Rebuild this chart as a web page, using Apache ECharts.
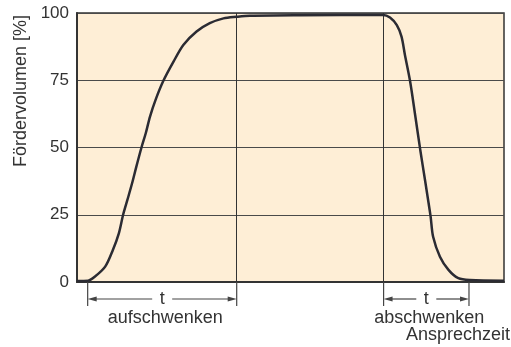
<!DOCTYPE html>
<html>
<head>
<meta charset="utf-8">
<script src="https://cdn.jsdelivr.net/npm/echarts@6/dist/echarts.min.js"></script>
<style>
  html, body { margin: 0; padding: 0; background: #fff; }
  #chart { width: 511px; height: 347px; }
</style>
</head>
<body>
<div id="chart"></div>
<script>
// time axis in arbitrary units (0..100), volume in %
const timeX = [0, 2.6, 4.2, 6.6, 8.4, 9.8, 10.8, 11.8, 12.9, 13.9, 15.1, 16.1, 17.1, 18.4, 20.2, 22.6, 24.9, 28.0, 31.1, 34.3, 37.4, 40.5, 52.2, 71.7, 73.3, 74.9, 76.0, 76.8, 78.0, 79.2, 80.4, 81.5, 82.8, 83.4, 85.0, 87.0, 89.3, 92.0, 100];
const volume = [0.4, 0.5, 2.0, 5.7, 11.9, 18.1, 25.0, 30.5, 36.7, 42.9, 50.0, 55.3, 61.5, 67.7, 74.7, 81.9, 88.1, 93.1, 96.2, 98.0, 98.6, 99.0, 99.2, 99.3, 98.3, 95.5, 91.2, 84.4, 74.7, 62.0, 49.0, 37.9, 24.5, 16.8, 9.4, 4.5, 1.4, 0.7, 0.5];
const yTicks = [0, 25, 50, 75, 100];
const phaseStart = [2.5, 71.8];
const phaseEnd = [37.4, 91.8];
const phaseNames = ['aufschwenken', 'abschwenken'];

const ink = '#2b2b33';
const txt = '#333333';
const font = '"Liberation Sans", Arial, sans-serif';

const chart = echarts.init(document.getElementById('chart'));

const option = {
  animation: false,
  grid: {
    left: 77, right: 7, top: 13, bottom: 65,
    show: true,
    backgroundColor: '#feeed6',
    borderColor: '#333',
    borderWidth: 1.5
  },
  xAxis: {
    type: 'value', min: 0, max: 100,
    axisLine: { show: true, onZero: false, lineStyle: { color: '#333', width: 2 } },
    axisTick: { show: false },
    axisLabel: { show: false },
    splitLine: { show: false }
  },
  yAxis: {
    type: 'value', min: yTicks[0], max: yTicks[yTicks.length - 1], interval: 25,
    axisLine: { show: true, lineStyle: { color: '#333', width: 2 } },
    axisTick: { show: false },
    axisLabel: { color: txt, fontSize: 17, fontFamily: font, margin: 8 },
    splitLine: { show: true, lineStyle: { color: '#4a4a4a', width: 1 } }
  },
  graphic: [
    {
      type: 'text', x: 21, y: 91, rotation: Math.PI / 2,
      style: { text: 'Fördervolumen [%]', fill: txt, font: '18px ' + font, align: 'center', verticalAlign: 'middle' }
    },
    {
      type: 'text', right: 1, top: 326,
      style: { text: 'Ansprechzeit', fill: txt, font: '18px ' + font }
    }
  ],
  series: [
    {
      type: 'line',
      data: timeX.map((x, i) => [x, volume[i]]),
      symbol: 'none',
      smooth: 0.3,
      lineStyle: { color: ink, width: 2.5 },
      z: 5,
      markLine: {
        silent: true,
        symbol: 'none',
        label: { show: false },
        lineStyle: { color: '#333', width: 1, type: 'solid' },
        data: [{ xAxis: phaseEnd[0] }, { xAxis: phaseStart[1] }]
      }
    },
    {
      type: 'custom',
      clip: false,
      silent: true,
      data: phaseStart.map((s, i) => [s, phaseEnd[i]]),
      renderItem: function (params, api) {
        const a = api.coord([api.value(0), 0]);
        const b = api.coord([api.value(1), 0]);
        const y0 = a[1];
        const ya = y0 + 17;
        const mid = (a[0] + b[0]) / 2;
        const st = { stroke: '#444', lineWidth: 1.2 };
        return {
          type: 'group',
          children: [
            { type: 'line', shape: { x1: a[0], y1: y0, x2: a[0], y2: y0 + 24 }, style: st },
            { type: 'line', shape: { x1: b[0], y1: y0, x2: b[0], y2: y0 + 24 }, style: st },
            { type: 'line', shape: { x1: a[0] + 4, y1: ya, x2: mid - 10, y2: ya }, style: st },
            { type: 'line', shape: { x1: mid + 10, y1: ya, x2: b[0] - 4, y2: ya }, style: st },
            { type: 'polygon', shape: { points: [[a[0], ya], [a[0] + 9, ya - 2.5], [a[0] + 9, ya + 2.5]] }, style: { fill: '#444' } },
            { type: 'polygon', shape: { points: [[b[0], ya], [b[0] - 9, ya - 2.5], [b[0] - 9, ya + 2.5]] }, style: { fill: '#444' } },
            { type: 'text', style: { x: mid, y: ya, text: 't', fill: txt, font: '18px ' + font, align: 'center', verticalAlign: 'middle' } },
            { type: 'text', style: { x: mid + 3, y: y0 + 36, text: phaseNames[params.dataIndex], fill: txt, font: '18px ' + font, align: 'center', verticalAlign: 'middle' } }
          ]
        };
      }
    }
  ]
};

chart.setOption(option);
</script>
</body>
</html>
